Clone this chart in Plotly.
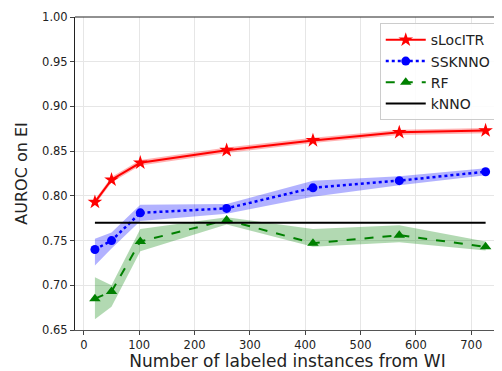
import plotly.graph_objects as go

x = [20, 50, 102, 258, 414, 570, 726]

sloc = [0.793, 0.818, 0.837, 0.851, 0.862, 0.871, 0.873]
sloc_lo = [0.790, 0.815, 0.834, 0.848, 0.859, 0.868, 0.870]
sloc_hi = [0.796, 0.821, 0.840, 0.854, 0.865, 0.874, 0.876]

ssk = [0.740, 0.750, 0.781, 0.786, 0.809, 0.817, 0.827]
ssk_lo = [0.722, 0.741, 0.772, 0.780, 0.799, 0.812, 0.823]
ssk_hi = [0.752, 0.759, 0.790, 0.791, 0.817, 0.822, 0.831]

rf = [0.685, 0.693, 0.749, 0.773, 0.747, 0.756, 0.743]
rf_lo = [0.662, 0.676, 0.738, 0.768, 0.743, 0.748, 0.739]
rf_hi = [0.709, 0.700, 0.763, 0.776, 0.763, 0.767, 0.749]

knno = [0.770] * len(x)

xticks = [0, 100, 200, 300, 400, 500, 600, 700]
yticks = [0.65, 0.70, 0.75, 0.80, 0.85, 0.90, 0.95, 1.00]

fig = go.Figure()

def band(lo, hi, color):
    fig.add_trace(go.Scatter(x=x + x[::-1], y=hi + lo[::-1], fill="toself",
                             fillcolor=color, line=dict(width=0), mode="lines",
                             hoverinfo="skip", showlegend=False))

band(sloc_lo, sloc_hi, "rgba(255,0,0,0.3)")
band(ssk_lo, ssk_hi, "rgba(0,0,255,0.3)")
band(rf_lo, rf_hi, "rgba(0,128,0,0.3)")

fig.add_trace(go.Scatter(x=x, y=sloc, name="sLocITR", mode="lines+markers",
                         line=dict(color="red", width=2),
                         marker=dict(symbol="star", size=11, color="red")))
fig.add_trace(go.Scatter(x=x, y=ssk, name="SSKNNO", mode="lines+markers",
                         line=dict(color="blue", width=2.5, dash="dot"),
                         marker=dict(symbol="circle", size=9, color="blue")))
fig.add_trace(go.Scatter(x=x, y=rf, name="RF", mode="lines+markers",
                         line=dict(color="green", width=2, dash="dash"),
                         marker=dict(symbol="triangle-up", size=10, color="green")))
fig.add_trace(go.Scatter(x=x, y=knno, name="kNNO", mode="lines",
                         line=dict(color="black", width=2)))

# page body has an 8px margin, so the figure is shrunk and shifted accordingly
fig.update_layout(
    width=494, height=363,
    margin=dict(l=67, r=2, t=7, b=41),
    paper_bgcolor="white", plot_bgcolor="white",
    font=dict(family="DejaVu Sans", color="#222"),
    showlegend=True,
    legend=dict(x=0.99, y=0.98, xanchor="right", yanchor="top",
                bgcolor="rgba(255,255,255,0.85)", bordercolor="#ccc", borderwidth=1,
                font=dict(size=14), tracegroupgap=0, itemwidth=40),
)
fig.update_xaxes(range=[-16, 752], tickvals=xticks, ticks="outside", ticklen=4,
                 tickfont=dict(size=11.5), showgrid=True, gridcolor="#e6e6e6",
                 showline=True, linecolor="#555", mirror=False, zeroline=False,
                 title=dict(text="Number of labeled instances from WI", font=dict(size=17), standoff=5))
fig.update_yaxes(range=[0.65, 1.0], tickvals=yticks, tickformat=".2f", ticks="outside", ticklen=4,
                 tickfont=dict(size=11.5), showgrid=True, gridcolor="#e6e6e6",
                 showline=True, linecolor="#222", mirror=False, zeroline=False,
                 title=dict(text="AUROC on EI", font=dict(size=16), standoff=10))
fig.add_shape(type="line", xref="paper", yref="paper", x0=0, x1=1, y0=1, y1=1,
              line=dict(color="#222", width=1))

fig.write_html("out.html")
